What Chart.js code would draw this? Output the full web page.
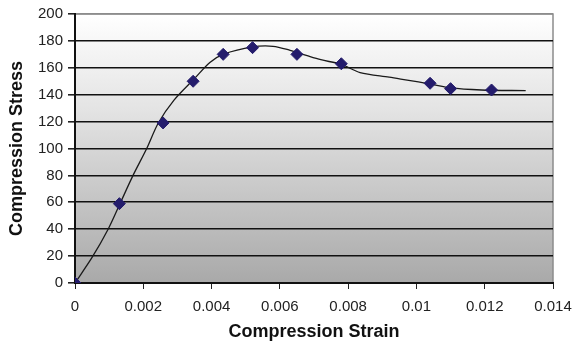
<!DOCTYPE html>
<html lang="en">
<head>
<meta charset="UTF-8">
<title>Compression Stress vs Strain</title>
<script src="https://cdn.jsdelivr.net/npm/chart.js"></script>
<style>
  html, body { margin: 0; padding: 0; background: #fff; }
  #wrap { width: 578px; height: 347px; }
</style>
</head>
<body>
<div id="wrap"><canvas id="stressChart" width="578" height="347"></canvas></div>
<script>
// measured points
var strain = [0, 0.0013, 0.00258, 0.00346, 0.00434, 0.0052, 0.0065, 0.0078, 0.0104, 0.011, 0.0122];
var stress = [0, 59, 119, 150, 170, 175, 170, 163, 148.5, 144.5, 143.5];

// fitted curve
var curveStrain = [0, 0.0005, 0.00097, 0.0013, 0.0017, 0.0021, 0.00244, 0.0029, 0.0035, 0.00395, 0.00434, 0.0052, 0.0058, 0.0063, 0.0068, 0.0072, 0.0078, 0.00835, 0.0092, 0.0104, 0.011, 0.0119, 0.0132];
var curveStress = [0, 19, 40, 58, 80, 100, 119, 136, 152, 164, 170, 175.5, 176, 173, 169, 166, 162.5, 156.5, 153, 148, 145, 143.5, 143];

var xTicks = [0, 0.002, 0.004, 0.006, 0.008, 0.01, 0.012, 0.014];

function toXY(xs, ys) {
    return xs.map(function (x, i) { return { x: x, y: ys[i] }; });
}

// gray gradient behind the plot, gray frame on top/right
var plotBackground = {
    id: 'plotBackground',
    beforeDraw: function (chart) {
        var a = chart.chartArea, ctx = chart.ctx;
        var g = ctx.createLinearGradient(0, a.top, 0, a.bottom);
        g.addColorStop(0, '#ffffff');
        g.addColorStop(0.35, '#e4e4e4');
        g.addColorStop(1, '#a9a9a9');
        ctx.save();
        ctx.fillStyle = g;
        ctx.fillRect(a.left, a.top, a.right - a.left, a.bottom - a.top);
        ctx.strokeStyle = '#8c8c8c';
        ctx.lineWidth = 1.5;
        ctx.beginPath();
        ctx.moveTo(a.left, a.top);
        ctx.lineTo(a.right, a.top);
        ctx.lineTo(a.right, a.bottom);
        ctx.stroke();
        ctx.restore();
    }
};

var ctx = document.getElementById('stressChart').getContext('2d');
new Chart(ctx, {
    type: 'scatter',
    data: {
        datasets: [{
            label: 'Curve',
            type: 'line',
            data: toXY(curveStrain, curveStress),
            borderColor: '#1a1a1a',
            borderWidth: 1.3,
            pointRadius: 0,
            tension: 0.3,
            fill: false,
            order: 2
        }, {
            label: 'Test data',
            data: toXY(strain, stress),
            pointStyle: 'rectRot',
            pointRadius: 6,
            pointBackgroundColor: '#241c6c',
            pointBorderColor: '#241c6c',
            order: 1
        }]
    },
    plugins: [plotBackground],
    options: {
        responsive: false,
        animation: false,
        layout: { padding: { left: 6, right: 25, top: 13, bottom: 0 } },
        plugins: {
            legend: { display: false },
            tooltip: { enabled: false }
        },
        scales: {
            x: {
                type: 'linear',
                min: 0,
                max: 0.014,
                afterBuildTicks: function (s) {
                    s.ticks = xTicks.map(function (v) { return { value: v }; });
                },
                afterFit: function (s) {
                    s.height = 64;
                    s.paddingRight = 0;
                },
                grid: {
                    drawOnChartArea: false,
                    drawTicks: true,
                    tickLength: 6,
                    color: '#222'
                },
                border: { color: '#111', width: 2 },
                ticks: {
                    color: '#222',
                    padding: 9,
                    font: { family: 'Liberation Sans, Arial', size: 15 },
                    maxRotation: 0,
                    callback: function (v) { return String(parseFloat(v.toFixed(3))); }
                },
                title: {
                    display: true,
                    text: 'Compression Strain',
                    color: '#111',
                    font: { family: 'Liberation Sans, Arial', size: 18, weight: 'bold' },
                    padding: { top: 3 }
                }
            },
            y: {
                min: 0,
                max: 200,
                afterFit: function (s) { s.width = 69; },
                grid: {
                    color: function (c) { return c.tick.value === 200 ? '#8c8c8c' : '#111'; },
                    lineWidth: 1.6,
                    tickLength: 7,
                    tickColor: '#222'
                },
                border: { color: '#111', width: 2 },
                ticks: {
                    stepSize: 20,
                    color: '#222',
                    padding: 5,
                    font: { family: 'Liberation Sans, Arial', size: 15 }
                },
                title: {
                    display: true,
                    text: 'Compression Stress',
                    color: '#111',
                    font: { family: 'Liberation Sans, Arial', size: 18, weight: 'bold' },
                    padding: { top: 0, bottom: 2 }
                }
            }
        }
    }
});
</script>
</body>
</html>
